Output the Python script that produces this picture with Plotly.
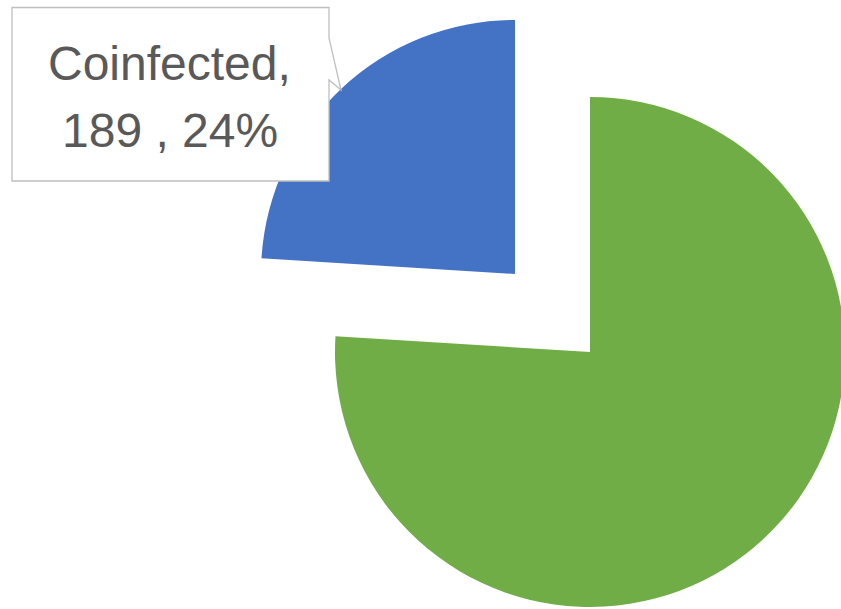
import plotly.graph_objects as go

categories = ["Coinfected", "Monoinfected"]
values = [189, 598]
colors = ["#4472C4", "#70AD47"]

# figure is slightly wider than the window so the green slice can run to the edge
W, H = 845, 609

def px(x):
    return x / W

def py(y):
    return 1 - y / H

def dom(cx, cy, r):
    return dict(x=[max(0, px(cx - r)), min(1, px(cx + r))],
                y=[max(0, py(cy + r)), min(1, py(cy - r))])

# first slice runs counter-clockwise from 12 o'clock
rot = -360.0 * values[0] / sum(values)

fig = go.Figure()

# Green (main) slice, drawn at its own centre
fig.add_trace(go.Pie(
    labels=categories, values=values, sort=False,
    direction="clockwise", rotation=rot,
    marker=dict(colors=["rgba(0,0,0,0)", colors[1]], line=dict(width=0)),
    textinfo="none", hoverinfo="label+value+percent", showlegend=False,
    domain=dom(590, 352, 255),
))

# Blue (exploded) slice
fig.add_trace(go.Pie(
    labels=categories, values=values, sort=False,
    direction="clockwise", rotation=rot,
    marker=dict(colors=[colors[0], "rgba(0,0,0,0)"], line=dict(width=0)),
    textinfo="none", hoverinfo="label+value+percent", showlegend=False,
    domain=dom(515, 274, 254),
))

pct = round(100 * values[0] / sum(values))

# Callout box with pointer
path_pts = [(12, 7.5), (329, 7.5), (329, 38), (341, 90), (329, 80), (329, 181), (12, 181)]
path = "M " + " L ".join(f"{px(x)},{py(y)}" for x, y in path_pts) + " Z"
fig.add_shape(type="path", path=path, xref="paper", yref="paper",
              fillcolor="white", line=dict(color="#BFBFBF", width=1.3))

font = dict(family="Liberation Sans, Arial, sans-serif", size=48, color="#595959")
fig.add_annotation(text=f"{categories[0]},", x=px(169), y=py(64), xref="paper", yref="paper",
                   showarrow=False, xanchor="center", yanchor="middle", font=font)
fig.add_annotation(text=f"{values[0]} , {pct}%", x=px(170), y=py(131), xref="paper", yref="paper",
                   showarrow=False, xanchor="center", yanchor="middle", font=font)

fig.update_layout(width=W, height=H, autosize=False,
                  margin=dict(l=0, r=0, t=0, b=0),
                  paper_bgcolor="white", plot_bgcolor="white")

fig.write_html("out.html", config={"displayModeBar": False},
               post_script="document.body.style.margin='0px';document.body.style.overflow='hidden';")
